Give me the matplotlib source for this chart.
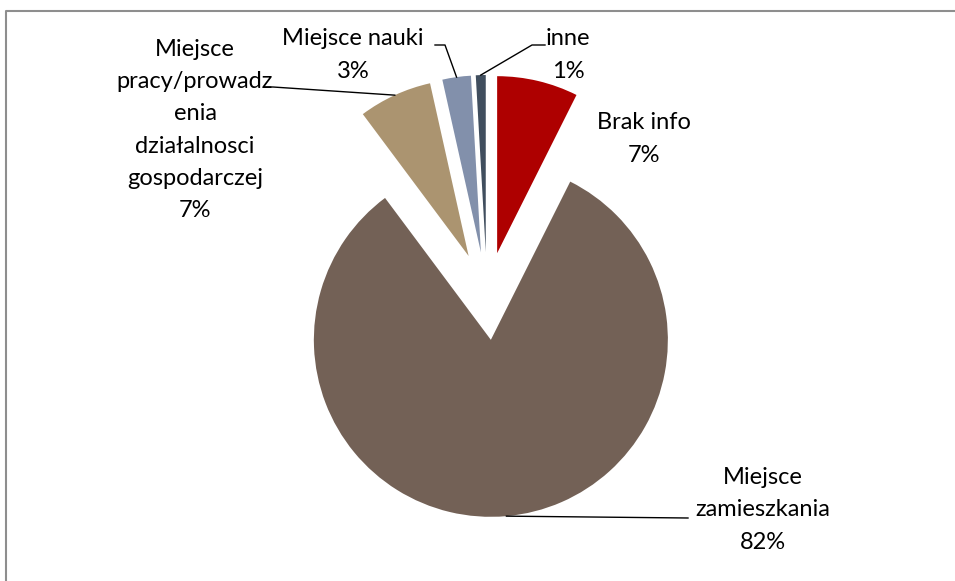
import matplotlib.pyplot as plt
import numpy as np

plt.rcParams['font.family'] = ['Lato', 'DejaVu Sans']

names = ['Brak info', 'Miejsce\nzamieszkania',
         'Miejsce\npracy/prowadz\nenia\ndziałalnosci\ngospodarczej',
         'Miejsce nauki', 'inne']
shares = [7.4, 82.4, 6.7, 2.6, 0.9]
colors = ['#ae0000', '#736156', '#ab9470', '#8290ab', '#404e5e']

# label centres and leader elbows, in pixel units (y up)
label_pos = [(644, 442), (763, 71), (195, 451), (353, 526), (568, 526)]
elbows = [None, [(688, 63)], [(265, 494), (273, 494)],
          [(435, 536), (445, 536)], [(545, 536), (532, 536)]]

W, H = 955, 581
fig = plt.figure(figsize=(W / 100, H / 100), dpi=100)
ax = fig.add_axes([0, 0, 1, 1])

wedges, _ = ax.pie(shares, colors=colors, startangle=90, counterclock=False,
                   radius=177, center=(487, 285), explode=[44] * len(shares),
                   frame=False)
ax.set_xlim(0, W)
ax.set_ylim(0, H)
ax.set_aspect('auto')
ax.axis('off')

for w, name, v, pos, elb in zip(wedges, names, shares, label_pos, elbows):
    ax.text(pos[0], pos[1], f"{name}\n{round(v)}%", ha='center', va='center',
            fontsize=17, linespacing=1.66, color='#000000')
    if elb is None:
        continue
    th = np.deg2rad((w.theta1 + w.theta2) / 2)
    ax_pt = (w.center[0] + w.r * np.cos(th), w.center[1] + w.r * np.sin(th))
    pts = elb + [ax_pt]
    ax.plot([p[0] for p in pts], [p[1] for p in pts], color='black', lw=1.0)

# chart area border
ax.plot([5.5, 5.5, W], [0, H - 10.5, H - 10.5], color='#8e8e8e', lw=1.5,
        solid_capstyle='butt')

fig.savefig('out.png', dpi=100)
